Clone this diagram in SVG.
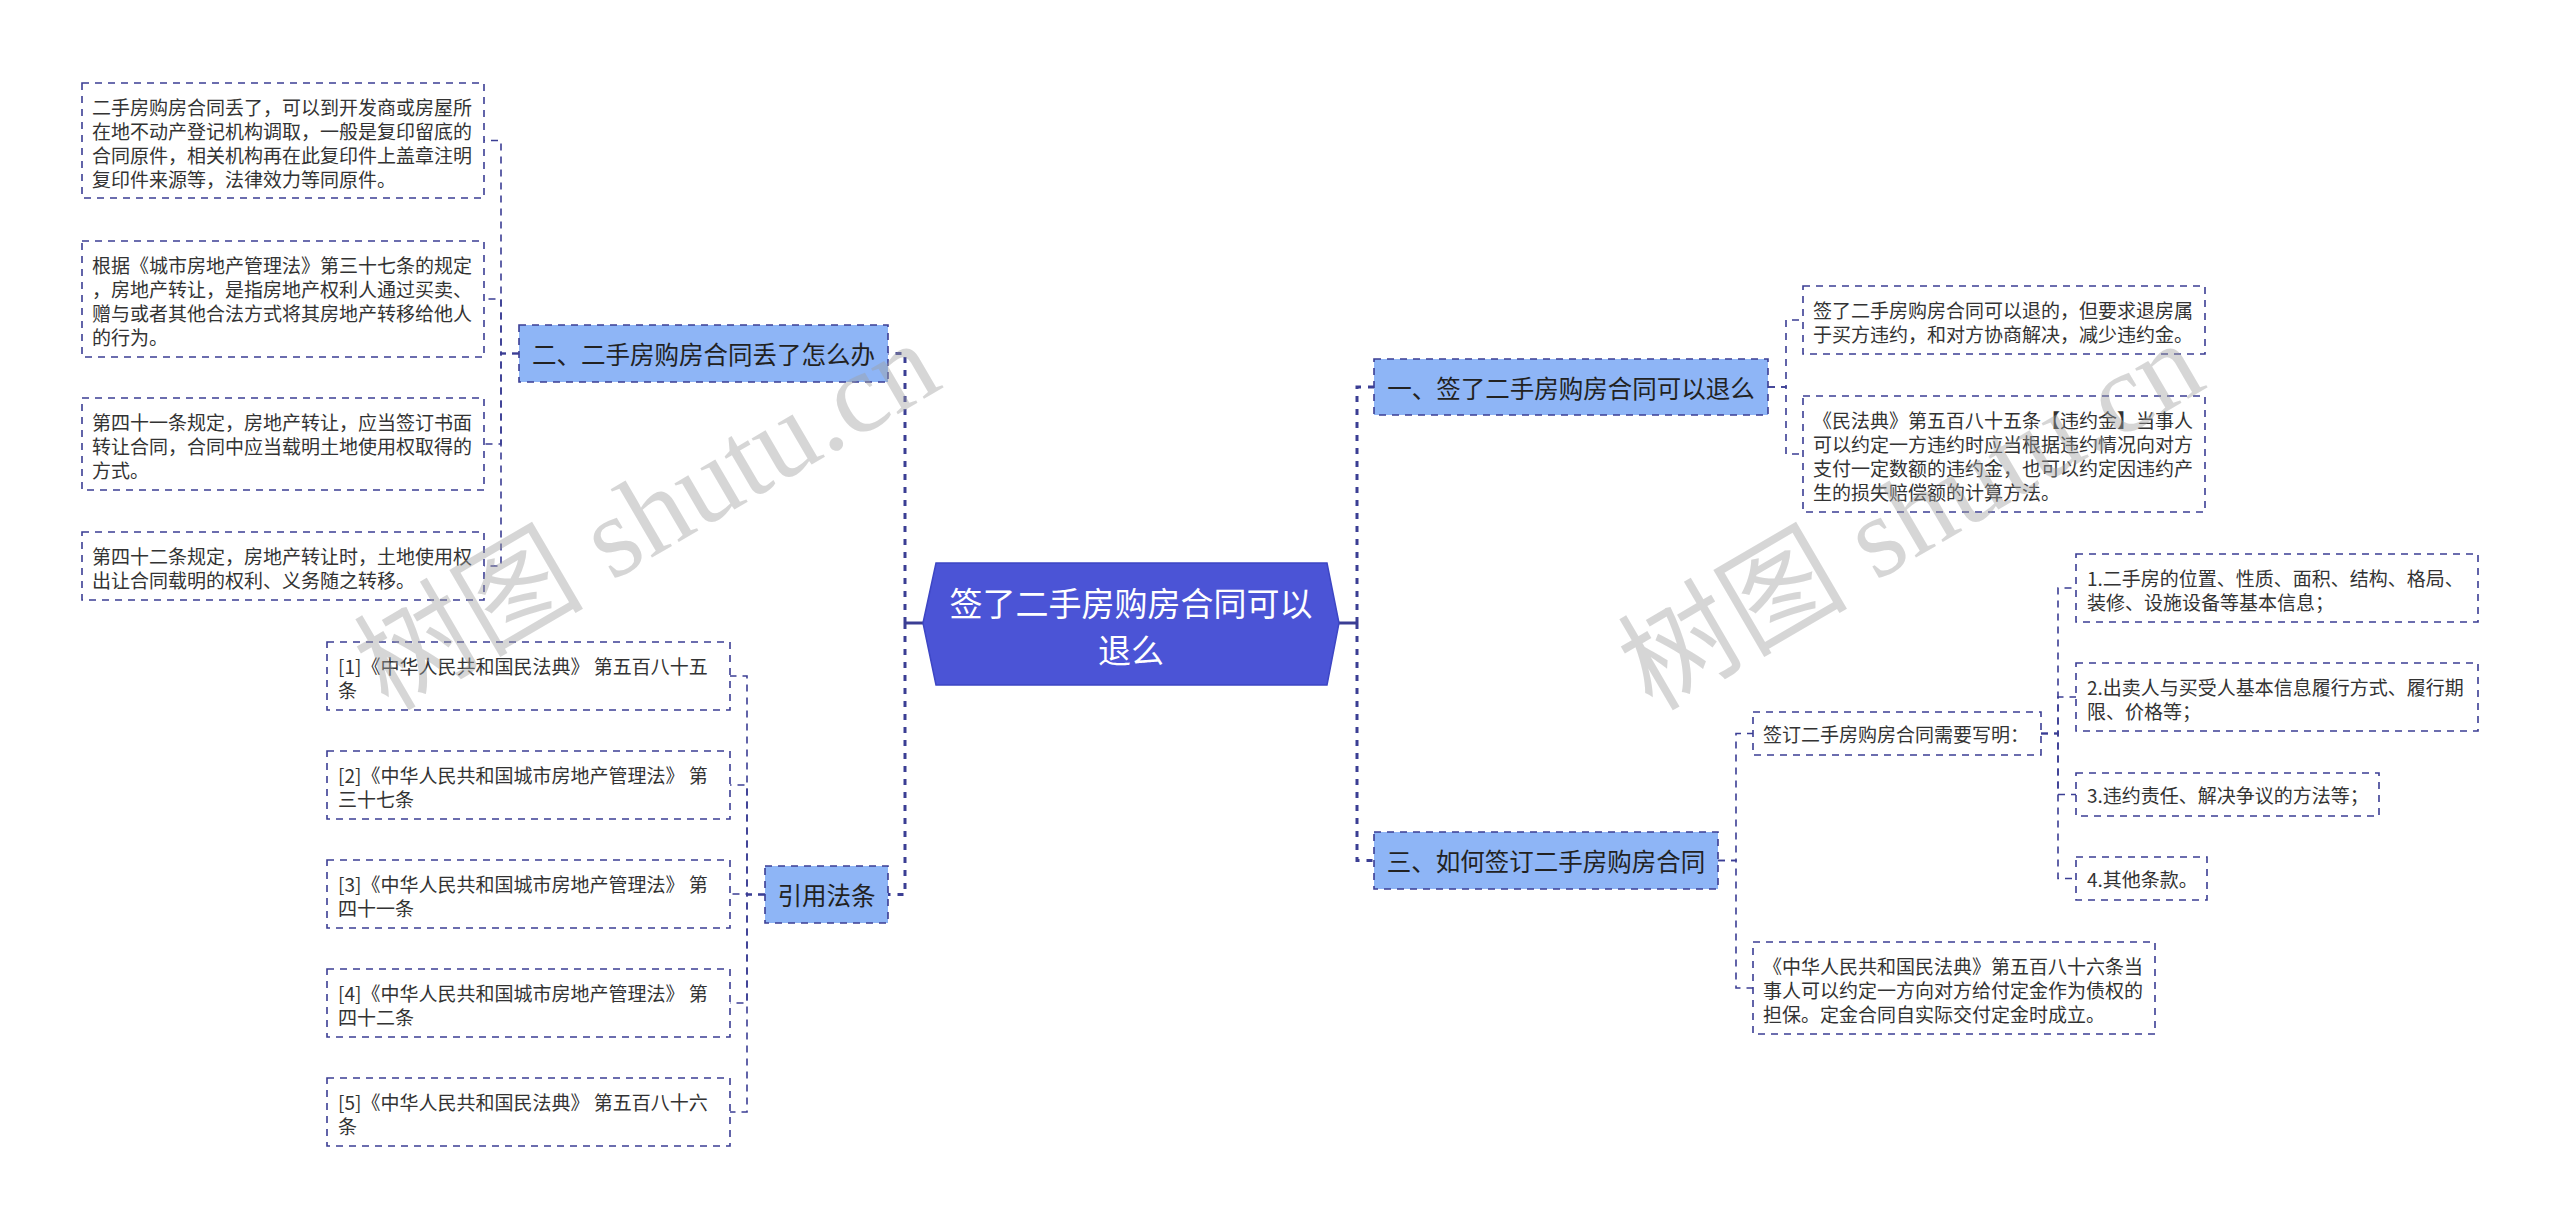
<svg xmlns="http://www.w3.org/2000/svg" width="2560" height="1229" viewBox="0 0 2560 1229">
<style>
.bg{fill:#ffffff}
.box{fill:#ffffff;stroke:#3b3e94;stroke-width:1.6;stroke-dasharray:7 6}
.sub{fill:#8eb5f6;stroke:#3b3e94;stroke-width:1.6;stroke-dasharray:7 6}
.root{fill:#4b54d6;stroke:#3d46c4;stroke-width:1.5}
.t{font-family:"Noto Sans CJK SC","Noto Sans",sans-serif;font-size:19px;fill:#333333;dominant-baseline:central}
.ts{font-family:"Noto Sans CJK SC","Noto Sans",sans-serif;font-size:24.5px;fill:#222222;dominant-baseline:central;text-anchor:middle}
.tr{font-family:"Noto Sans CJK SC","Noto Sans",sans-serif;font-size:33px;fill:#ffffff;dominant-baseline:central;text-anchor:middle}
.c{fill:none;stroke:#3b3e94;stroke-width:1.6;stroke-dasharray:7 6}
.ck{fill:none;stroke:#3b3e94;stroke-width:3;stroke-dasharray:6 7}
.cs{fill:none;stroke:#3b3e94;stroke-width:3}
.wm{font-family:"Liberation Serif","Noto Sans CJK SC",serif;font-size:115px;fill:#a0a0a0;opacity:0.42}
</style>
<rect class="bg" x="0" y="0" width="2560" height="1229"/>

<g id="connectors">
  <path class="cs" d="M923,623 H905"/>
  <path class="ck" d="M905,623 V353.5 H888"/>
  <path class="ck" d="M905,623 V894.5 H888"/>
  <path class="cs" d="M1339,623 H1357"/>
  <path class="ck" d="M1357,623 V387 H1374"/>
  <path class="ck" d="M1357,623 V860.5 H1374"/>
  <path class="c" d="M519,353.5 H501 V140.5 H484"/>
  <path class="c" d="M519,353.5 H501 V299 H484"/>
  <path class="c" d="M519,353.5 H501 V444 H484"/>
  <path class="c" d="M519,353.5 H501 V566 H484"/>
  <path class="c" d="M765,894.5 H747 V676 H730"/>
  <path class="c" d="M765,894.5 H747 V785 H730"/>
  <path class="c" d="M765,894.5 H747 V894 H730"/>
  <path class="c" d="M765,894.5 H747 V1003 H730"/>
  <path class="c" d="M765,894.5 H747 V1112 H730"/>
  <path class="c" d="M1768,387 H1786 V320 H1803"/>
  <path class="c" d="M1768,387 H1786 V454 H1803"/>
  <path class="c" d="M1718,860.5 H1736 V733.5 H1753"/>
  <path class="c" d="M1718,860.5 H1736 V988 H1753"/>
  <path class="c" d="M2041,733.5 H2058 V588 H2076"/>
  <path class="c" d="M2041,733.5 H2058 V697 H2076"/>
  <path class="c" d="M2041,733.5 H2058 V794.5 H2076"/>
  <path class="c" d="M2041,733.5 H2058 V878.5 H2076"/>
</g>

<g id="root">
  <polygon class="root" points="923,623 936,563 1327,563 1339,623 1327,685 936,685"/>
  <text class="tr" x="1131" y="602">签了二手房购房合同可以</text>
  <text class="tr" x="1131" y="649">退么</text>
</g>

<g id="n2">
  <rect class="sub" x="519" y="325" width="369" height="57"/>
  <text class="ts" x="703.5" y="353.5">二、二手房购房合同丢了怎么办</text>
</g>
<g id="n2a">
  <rect class="box" x="82" y="83" width="402" height="115"/>
  <text class="t" x="92" y="106">二手房购房合同丢了，可以到开发商或房屋所</text>
  <text class="t" x="92" y="130">在地不动产登记机构调取，一般是复印留底的</text>
  <text class="t" x="92" y="154">合同原件，相关机构再在此复印件上盖章注明</text>
  <text class="t" x="92" y="178">复印件来源等，法律效力等同原件。</text>
</g>
<g id="n2b">
  <rect class="box" x="82" y="241" width="402" height="116"/>
  <text class="t" x="92" y="264">根据《城市房地产管理法》第三十七条的规定</text>
  <text class="t" x="92" y="288">，房地产转让，是指房地产权利人通过买卖、</text>
  <text class="t" x="92" y="312">赠与或者其他合法方式将其房地产转移给他人</text>
  <text class="t" x="92" y="336">的行为。</text>
</g>
<g id="n2c">
  <rect class="box" x="82" y="398" width="402" height="92"/>
  <text class="t" x="92" y="421">第四十一条规定，房地产转让，应当签订书面</text>
  <text class="t" x="92" y="445">转让合同，合同中应当载明土地使用权取得的</text>
  <text class="t" x="92" y="469">方式。</text>
</g>
<g id="n2d">
  <rect class="box" x="82" y="532" width="402" height="68"/>
  <text class="t" x="92" y="555">第四十二条规定，房地产转让时，土地使用权</text>
  <text class="t" x="92" y="579">出让合同载明的权利、义务随之转移。</text>
</g>

<g id="nref">
  <rect class="sub" x="765" y="866" width="123" height="57"/>
  <text class="ts" x="826.5" y="894.5">引用法条</text>
</g>
<g id="ref1">
  <rect class="box" x="327" y="642" width="403" height="68"/>
  <text class="t" x="338" y="665">[1]《中华人民共和国民法典》 第五百八十五</text>
  <text class="t" x="338" y="689">条</text>
</g>
<g id="ref2">
  <rect class="box" x="327" y="751" width="403" height="68"/>
  <text class="t" x="338" y="774">[2]《中华人民共和国城市房地产管理法》 第</text>
  <text class="t" x="338" y="798">三十七条</text>
</g>
<g id="ref3">
  <rect class="box" x="327" y="860" width="403" height="68"/>
  <text class="t" x="338" y="883">[3]《中华人民共和国城市房地产管理法》 第</text>
  <text class="t" x="338" y="907">四十一条</text>
</g>
<g id="ref4">
  <rect class="box" x="327" y="969" width="403" height="68"/>
  <text class="t" x="338" y="992">[4]《中华人民共和国城市房地产管理法》 第</text>
  <text class="t" x="338" y="1016">四十二条</text>
</g>
<g id="ref5">
  <rect class="box" x="327" y="1078" width="403" height="68"/>
  <text class="t" x="338" y="1101">[5]《中华人民共和国民法典》 第五百八十六</text>
  <text class="t" x="338" y="1125">条</text>
</g>

<g id="n1">
  <rect class="sub" x="1374" y="359" width="394" height="56"/>
  <text class="ts" x="1571" y="387">一、签了二手房购房合同可以退么</text>
</g>
<g id="n1a">
  <rect class="box" x="1803" y="286" width="402" height="68"/>
  <text class="t" x="1813" y="309">签了二手房购房合同可以退的，但要求退房属</text>
  <text class="t" x="1813" y="333">于买方违约，和对方协商解决，减少违约金。</text>
</g>
<g id="n1b">
  <rect class="box" x="1803" y="396" width="402" height="116"/>
  <text class="t" x="1813" y="419">《民法典》第五百八十五条【违约金】当事人</text>
  <text class="t" x="1813" y="443">可以约定一方违约时应当根据违约情况向对方</text>
  <text class="t" x="1813" y="467">支付一定数额的违约金，也可以约定因违约产</text>
  <text class="t" x="1813" y="491">生的损失赔偿额的计算方法。</text>
</g>

<g id="n3">
  <rect class="sub" x="1374" y="832" width="344" height="57"/>
  <text class="ts" x="1546" y="860.5">三、如何签订二手房购房合同</text>
</g>
<g id="n3a">
  <rect class="box" x="1753" y="712" width="288" height="43"/>
  <text class="t" x="1763" y="733.5">签订二手房购房合同需要写明：</text>
</g>
<g id="n3a1">
  <rect class="box" x="2076" y="554" width="402" height="68"/>
  <text class="t" x="2087" y="577">1.二手房的位置、性质、面积、结构、格局、</text>
  <text class="t" x="2087" y="601">装修、设施设备等基本信息；</text>
</g>
<g id="n3a2">
  <rect class="box" x="2076" y="663" width="402" height="68"/>
  <text class="t" x="2087" y="686">2.出卖人与买受人基本信息履行方式、履行期</text>
  <text class="t" x="2087" y="710">限、价格等；</text>
</g>
<g id="n3a3">
  <rect class="box" x="2076" y="773" width="303" height="43"/>
  <text class="t" x="2087" y="794.5">3.违约责任、解决争议的方法等；</text>
</g>
<g id="n3a4">
  <rect class="box" x="2076" y="857" width="131" height="43"/>
  <text class="t" x="2087" y="878.5">4.其他条款。</text>
</g>
<g id="n3b">
  <rect class="box" x="1753" y="942" width="402" height="92"/>
  <text class="t" x="1763" y="965">《中华人民共和国民法典》第五百八十六条当</text>
  <text class="t" x="1763" y="989">事人可以约定一方向对方给付定金作为债权的</text>
  <text class="t" x="1763" y="1013">担保。定金合同自实际交付定金时成立。</text>
</g>

<g id="watermarks">
  <text class="wm" transform="translate(388,712) rotate(-30.3)">树图 shutu.cn</text>
  <text class="wm" transform="translate(1652,712) rotate(-30.3)">树图 shutu.cn</text>
</g>
</svg>
